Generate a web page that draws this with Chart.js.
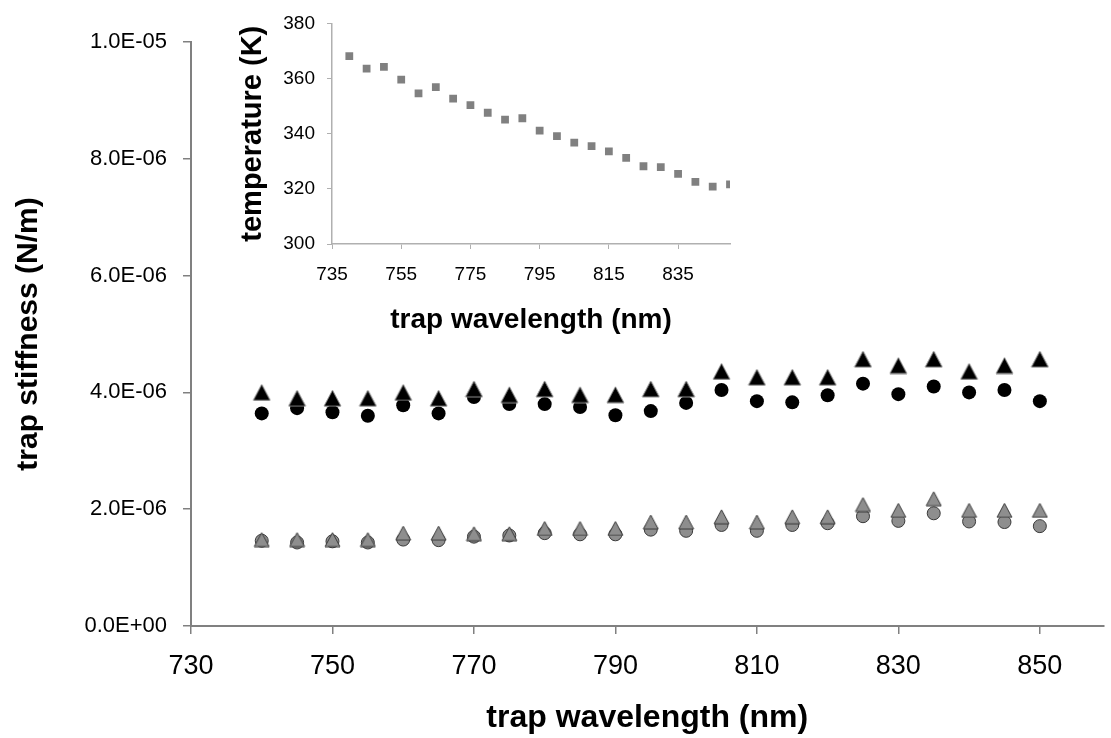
<!DOCTYPE html>
<html lang="en">
  <head>
    <title>Trap stiffness vs wavelength</title>
    <meta charset="UTF-8" />
    <style>
      body { margin: 0; background: #fff; }
      .wrap { position: relative; width: 1111px; height: 738px; }
      #mainChart { position: absolute; left: 0; top: 0; }
      #insetChart { position: absolute; left: 230px; top: 0; }
    </style>
  </head>
  <body>
    <div class="wrap">
      <canvas id="mainChart" width="1111" height="738"></canvas>
      <canvas id="insetChart" width="520" height="345"></canvas>
    </div>
    <script src="https://cdn.jsdelivr.net/npm/chart.js@4"></script>
    <script>
      // wavelengths (nm)
      var wavelengths = [740, 745, 750, 755, 760, 765, 770, 775, 780, 785, 790, 795,
        800, 805, 810, 815, 820, 825, 830, 835, 840, 845, 850];

      // trap stiffness (N/m)
      var blackTriangles = [4.00e-6, 3.90e-6, 3.90e-6, 3.90e-6, 4.00e-6, 3.90e-6, 4.06e-6, 3.96e-6,
        4.06e-6, 3.96e-6, 3.96e-6, 4.06e-6, 4.06e-6, 4.36e-6, 4.26e-6, 4.26e-6, 4.26e-6, 4.57e-6,
        4.46e-6, 4.57e-6, 4.36e-6, 4.46e-6, 4.57e-6];
      var blackCircles = [3.64e-6, 3.73e-6, 3.66e-6, 3.60e-6, 3.78e-6, 3.64e-6, 3.92e-6, 3.80e-6,
        3.80e-6, 3.75e-6, 3.61e-6, 3.68e-6, 3.82e-6, 4.04e-6, 3.85e-6, 3.83e-6, 3.95e-6, 4.15e-6,
        3.97e-6, 4.10e-6, 4.00e-6, 4.04e-6, 3.85e-6];
      var grayTriangles = [1.48e-6, 1.48e-6, 1.48e-6, 1.48e-6, 1.59e-6, 1.59e-6, 1.58e-6, 1.58e-6,
        1.67e-6, 1.67e-6, 1.67e-6, 1.78e-6, 1.78e-6, 1.87e-6, 1.78e-6, 1.87e-6, 1.87e-6, 2.08e-6,
        1.98e-6, 2.18e-6, 1.98e-6, 1.98e-6, 1.98e-6];
      var grayCircles = [1.46e-6, 1.43e-6, 1.45e-6, 1.43e-6, 1.48e-6, 1.47e-6, 1.53e-6, 1.55e-6,
        1.59e-6, 1.57e-6, 1.57e-6, 1.65e-6, 1.63e-6, 1.73e-6, 1.63e-6, 1.73e-6, 1.76e-6, 1.88e-6,
        1.80e-6, 1.93e-6, 1.79e-6, 1.78e-6, 1.71e-6];

      // temperature (K) for the inset
      var temperatures = [368.1, 363.6, 364.2, 359.6, 354.6, 356.9, 352.7, 350.4, 347.6, 345.1,
        345.6, 341.1, 339.1, 336.8, 335.5, 333.6, 331.2, 328.2, 327.9, 325.4, 322.5, 320.8, 321.6];

      // tick labels
      var xTicks = [730, 750, 770, 790, 810, 830, 850];
      var yTicks = [0, 2e-6, 4e-6, 6e-6, 8e-6, 1e-5];
      var yTickLabels = ["0.0E+00", "2.0E-06", "4.0E-06", "6.0E-06", "8.0E-06", "1.0E-05"];
      var insetXTicks = [735, 755, 775, 795, 815, 835];
      var insetYTicks = [300, 320, 340, 360, 380];

      var FONT = "'Liberation Sans', Arial, sans-serif";
      var AXIS = "#808080";

      function pts(ys) {
        return ys.map(function (y, i) { return { x: wavelengths[i], y: y }; });
      }

      // triangle marker centred on its bounding box
      function triangle(w, h, fill, stroke) {
        var c = document.createElement("canvas");
        c.width = w + 2;
        c.height = h + 2;
        var g = c.getContext("2d");
        g.beginPath();
        g.moveTo(w / 2 + 1, 1);
        g.lineTo(w + 1, h + 1);
        g.lineTo(1, h + 1);
        g.closePath();
        g.fillStyle = fill;
        g.fill();
        g.lineWidth = 1;
        g.strokeStyle = stroke;
        g.stroke();
        return c;
      }

      var blackTri = triangle(17, 16, "#000", "#8a8a8a");
      var grayTri = triangle(15, 14, "#8e8e8e", "#3a3a3a");

      function fixTicks(list) {
        return function (scale) {
          scale.ticks = list.map(function (v) { return { value: v }; });
        };
      }

      new Chart(document.getElementById("mainChart"), {
        type: "scatter",
        data: {
          datasets: [
            { data: pts(blackTriangles), pointStyle: blackTri, order: 0 },
            { data: pts(grayTriangles), pointStyle: grayTri, order: 1 },
            { data: pts(blackCircles), pointStyle: "circle", pointRadius: 7,
              backgroundColor: "#000", borderWidth: 0, order: 2 },
            { data: pts(grayCircles), pointStyle: "circle", pointRadius: 6.5,
              backgroundColor: "#8e8e8e", borderColor: "#3a3a3a", borderWidth: 1, order: 3 }
          ]
        },
        options: {
          responsive: false,
          animation: false,
          devicePixelRatio: 1,
          layout: { padding: { top: 42, right: 1 } },
          plugins: { legend: { display: false }, tooltip: { enabled: false } },
          scales: {
            x: {
              type: "linear",
              min: 730,
              max: 859,
              afterBuildTicks: fixTicks(xTicks),
              afterFit: function (s) { s.height = 112; },
              grid: { drawOnChartArea: false, tickLength: 8, color: AXIS, lineWidth: 1.5 },
              border: { color: AXIS, width: 2 },
              ticks: { padding: 16, color: "#000", font: { family: FONT, size: 27 } },
              title: {
                display: true,
                text: "trap wavelength (nm)",
                color: "#000",
                font: { family: FONT, size: 32, weight: "bold" },
                padding: { top: 0, bottom: 1 }
              }
            },
            y: {
              min: 0,
              max: 1e-5,
              afterBuildTicks: fixTicks(yTicks),
              afterFit: function (s) { s.width = 191; },
              grid: { drawOnChartArea: false, tickLength: 8, color: AXIS, lineWidth: 1.5 },
              border: { color: AXIS, width: 2 },
              ticks: {
                padding: 16,
                color: "#000",
                font: { family: FONT, size: 22 },
                callback: function (v, i) { return yTickLabels[i]; }
              },
              title: {
                display: true,
                text: "trap stiffness (N/m)",
                color: "#000",
                font: { family: FONT, size: 30, weight: "bold" },
                padding: { top: 11, bottom: 0 }
              }
            }
          }
        }
      });

      // inset: temperature vs wavelength
      new Chart(document.getElementById("insetChart"), {
        type: "scatter",
        data: {
          datasets: [
            { data: pts(temperatures), pointStyle: "rect", pointRadius: 5.5,
              backgroundColor: "#808080", borderWidth: 0 }
          ]
        },
        options: {
          responsive: false,
          animation: false,
          devicePixelRatio: 1,
          layout: { padding: { top: 17, right: 20 } },
          plugins: { legend: { display: false }, tooltip: { enabled: false } },
          scales: {
            x: {
              type: "linear",
              min: 735,
              max: 850,
              afterBuildTicks: fixTicks(insetXTicks),
              afterFit: function (s) { s.height = 101; },
              grid: { drawOnChartArea: false, tickLength: 5, color: "#b0b0b0" },
              border: { color: "#b0b0b0", width: 1.5 },
              ticks: { padding: 14, color: "#000", font: { family: FONT, size: 19 } },
              title: {
                display: true,
                text: "trap wavelength (nm)",
                color: "#000",
                font: { family: FONT, size: 28, weight: "bold" },
                padding: { top: 0, bottom: 8 }
              }
            },
            y: {
              min: 300,
              max: 380,
              afterBuildTicks: fixTicks(insetYTicks),
              afterFit: function (s) { s.width = 102; },
              grid: { drawOnChartArea: false, tickLength: 5, color: "#b0b0b0" },
              border: { color: "#b0b0b0", width: 1.5 },
              ticks: { padding: 12, color: "#000", font: { family: FONT, size: 19 } },
              title: {
                display: true,
                text: "temperature (K)",
                color: "#000",
                font: { family: FONT, size: 29, weight: "bold" },
                padding: { top: 6, bottom: 0 }
              }
            }
          }
        }
      });
    </script>
  </body>
</html>
